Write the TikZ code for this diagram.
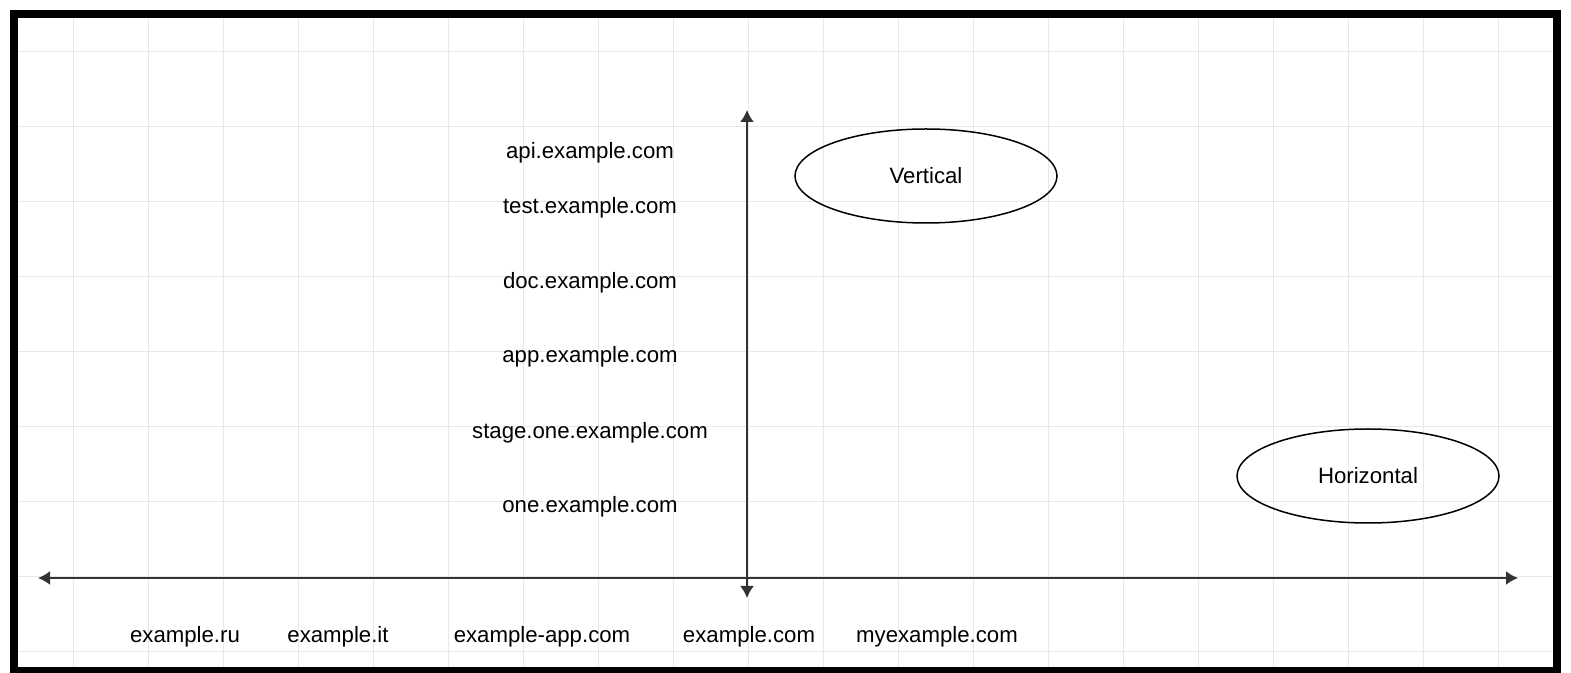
\documentclass[tikz,border=0pt]{standalone}
\usepackage{fontspec}
\setmainfont{Liberation Sans}
\usetikzlibrary{arrows.meta,shapes.geometric}

\begin{document}
\begin{tikzpicture}[x=0.5pt,y=-0.5pt]
	\tikzstyle{gridline}=[draw=black!9,line width=0.5pt]
	\tikzstyle{frame}=[draw=black,line width=4pt]
	\tikzstyle{axis}=[draw=black!80,line width=1pt,{Latex[length=6pt,width=7pt]}-{Latex[length=6pt,width=7pt]}]
	\tikzstyle{host}=[inner sep=0pt,font=\fontsize{11.1}{13}\selectfont]
	\tikzstyle{kind}=[ellipse,draw,line width=0.75pt,inner sep=0pt,minimum width=131pt,minimum height=47pt,font=\fontsize{11.1}{13}\selectfont]
	\useasboundingbox[fill=white] (0,0) rectangle (1571,673);
	% grid
	\foreach \gx in {73,148,...,1548} \draw [gridline] (\gx,18) -- (\gx,667);
	\foreach \gy in {52,127,...,652} \draw [gridline] (18,\gy) -- (1552,\gy);
	% axes
	\coordinate (west)  at (38,578);
	\coordinate (east)  at (1518,578);
	\coordinate (north) at (747,110);
	\coordinate (south) at (747,598);
	\draw [axis] (west) -- (east);
	\draw [axis] (north) -- (south);
	% vertical scaling
	\node (api)   at (590,153) [host] {api.example.com};
	\node (test)  at (590,208) [host] {test.example.com};
	\node (doc)   at (590,283) [host] {doc.example.com};
	\node (app)   at (590,357) [host] {app.example.com};
	\node (stage) at (590,433) [host] {stage.one.example.com};
	\node (one)   at (590,507) [host] {one.example.com};
	% horizontal scaling
	\node (ru)    at (185,637) [host] {example.ru};
	\node (it)    at (338,637) [host] {example.it};
	\node (exapp) at (542,637) [host] {example-app.com};
	\node (com)   at (749,637) [host] {example.com};
	\node (myex)  at (937,637) [host] {myexample.com};
	\node (vertical)   at (926,176)  [kind] {Vertical};
	\node (horizontal) at (1368,476) [kind] {Horizontal};
	\draw [frame] (14,14) rectangle (1557,671);
\end{tikzpicture}
\end{document}
